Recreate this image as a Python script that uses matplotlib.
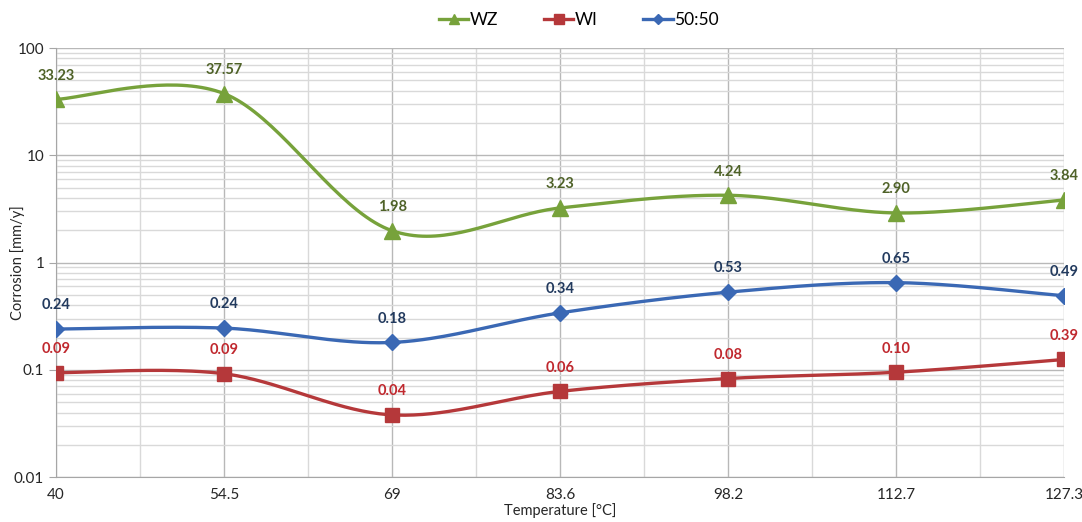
import numpy as np
import matplotlib.pyplot as plt
from matplotlib.ticker import FixedLocator, NullFormatter

temps = ['40', '54.5', '69', '83.6', '98.2', '112.7', '127.3']

wz = [33.23, 37.57, 1.98, 3.23, 4.24, 2.90, 3.84]
wi = [0.094, 0.092, 0.038, 0.063, 0.083, 0.095, 0.125]
mix = [0.24, 0.245, 0.18, 0.34, 0.53, 0.65, 0.49]

wz_labels = ['33.23', '37.57', '1.98', '3.23', '4.24', '2.90', '3.84']
wi_labels = ['0.09', '0.09', '0.04', '0.06', '0.08', '0.10', '0.39']
mix_labels = ['0.24', '0.24', '0.18', '0.34', '0.53', '0.65', '0.49']


def smooth(xs, ys, n=40):
    # Excel-style smoothing: Catmull-Rom in (x, log y)
    xs = np.asarray(xs, float)
    ly = np.log10(ys)
    px = np.concatenate([[xs[0]], xs, [xs[-1]]])
    py = np.concatenate([[ly[0]], ly, [ly[-1]]])
    out_x, out_y = [], []
    for i in range(1, len(px) - 2):
        p0, p1, p2, p3 = (np.array([px[j], py[j]]) for j in (i - 1, i, i + 1, i + 2))
        c1 = p1 + (p2 - p0) / 6
        c2 = p2 - (p3 - p1) / 6
        t = np.linspace(0, 1, n)[:, None]
        pts = (1 - t) ** 3 * p1 + 3 * (1 - t) ** 2 * t * c1 + 3 * (1 - t) * t ** 2 * c2 + t ** 3 * p2
        out_x.extend(pts[:, 0])
        out_y.extend(pts[:, 1])
    return np.array(out_x), 10 ** np.array(out_y)


plt.rcParams['font.family'] = ['Lato', 'DejaVu Sans']

fig = plt.figure(figsize=(10.82, 5.22), dpi=100)
ax = fig.add_axes([0.0518, 0.086, 0.932, 0.822])

x = np.arange(len(temps))
series = [
    ('WZ', wz, wz_labels, '#77a23b', '#4f6228', '^', 11),
    ('WI', wi, wi_labels, '#b5383a', '#c0282e', 's', 10),
    ('50:50', mix, mix_labels, '#3a68b4', '#223a5e', 'D', 8),
]

for name, vals, labs, col, lcol, mk, ms in series:
    sx, sy = smooth(x, vals)
    ax.plot(sx, sy, color=col, lw=2.4, zorder=3)
    ax.plot(x, vals, ls='none', marker=mk, ms=ms, color=col, zorder=4)
    ax.plot([], [], color=col, lw=2.4, marker=mk, ms=ms * 0.7, label=name)
    for xi, v, lab in zip(x, vals, labs):
        ax.annotate(lab, (xi, v), xytext=(0, 12), textcoords='offset points',
                    ha='center', va='bottom', fontsize=10.5, fontweight='bold', color=lcol)

ax.set_yscale('log')
ax.set_ylim(0.01, 100)
ax.set_xlim(0, len(temps) - 1)
ax.set_xticks(x)
ax.set_xticklabels(temps)
ax.set_xticks(np.arange(0.5, len(temps) - 1, 1), minor=True)
ax.set_yticks([0.01, 0.1, 1, 10, 100])
ax.set_yticklabels(['0.01', '0.1', '1', '10', '100'])
ax.yaxis.set_minor_locator(FixedLocator([m * 10.0 ** e for e in range(-2, 2) for m in range(2, 10)]))
ax.yaxis.set_minor_formatter(NullFormatter())

ax.grid(True, which='major', color='#b8b8b8', lw=1.0)
ax.grid(True, which='minor', color='#d9d9d9', lw=1.0)
ax.set_axisbelow(True)
for s in ['top', 'right']:
    ax.spines[s].set_visible(False)
for s in ['left', 'bottom']:
    ax.spines[s].set_color('#a6a6a6')
ax.tick_params(axis='x', which='both', length=0, labelsize=11, pad=8, colors='#262626')
ax.tick_params(axis='y', which='major', length=5, color='#a6a6a6', labelsize=11, colors='#262626')
ax.tick_params(axis='y', which='minor', length=0)
for t in ax.get_yticklabels():
    t.set_color('#262626')

ax.set_ylabel('Corrosion [mm/y]', fontsize=10.5, color='#262626', va='center')
ax.yaxis.set_label_coords(-0.038, 0.5)
ax.set_xlabel('Temperature [°C]', fontsize=10.5, color='#262626', va='center')
ax.xaxis.set_label_coords(0.5, -0.077)

fig.legend(loc='center', bbox_to_anchor=(0.535, 0.962), ncol=3, frameon=False,
           fontsize=12.5, handlelength=1.7, columnspacing=2.6, handletextpad=0.1)

fig.savefig('out.png', dpi=100)
